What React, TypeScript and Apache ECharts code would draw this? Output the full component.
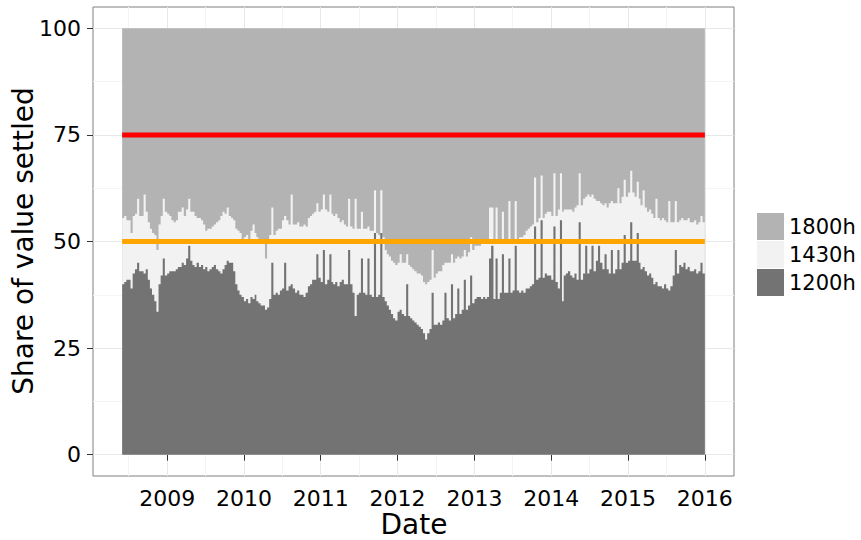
import React, { useEffect, useRef } from "react";
import * as echarts from "echarts";

// ---- data (three readings per month: days 1, 11, 21; Jun 2008 - Dec 2015) ----
const START_YEAR = 2008;
const START_MONTH = 5; // June (0-based)
const END_YEAR = 2015;
const DEKAD_DAYS = [1, 11, 21];

// share settled by 12:00 (bottom layer)
const share1200: number[] = [
  // 2008 Jun-Dec
  40, 40.5, 41, 41, 39, 42.5, 43.5, 45, 43, 43, 42.5, 43.5, 41, 39, 37.5, 36, 33.5, 40, 42, 46, 42,
  // 2009
  42.5, 43, 43, 43, 43.5, 44, 44, 45, 44.5, 46, 49, 45.5, 44.5, 44, 45, 44, 44.5, 43.5,
  44, 43, 43.5, 44, 44.5, 43.5, 43, 42.5, 43.5, 44.5, 45.5, 45, 45, 43, 40, 38.5, 37.5, 37,
  // 2010
  36, 36.5, 35.5, 37, 36.5, 37.5, 36, 35.5, 35, 35, 34, 34.5, 36.5, 45, 37.5, 38, 37.5, 38.5,
  39, 45, 38.5, 39.5, 40, 39, 38, 38.5, 37.5, 37.5, 37, 38, 39.5, 40, 41, 41, 47, 41.5,
  // 2011
  40.5, 48, 40, 41, 47, 40.5, 40, 40.5, 39.5, 40.5, 41, 40, 40, 48, 40, 38, 32.5, 37.5,
  38, 46, 38, 37.5, 46, 37.5, 37, 52, 37, 37.5, 52, 37, 36, 35, 34, 33, 32, 31.5,
  // 2012
  33.5, 34, 33, 32.5, 40, 32.5, 32, 31.5, 31, 30.5, 30, 29.5, 28.5, 27, 28.5, 29.5, 38, 30.5,
  30.5, 31, 30.5, 31.5, 38, 32, 31.5, 40, 32, 33, 39, 33, 34, 41, 34, 35, 42, 35.5,
  // 2013
  36.5, 37, 37, 36.5, 37, 36.5, 37, 46, 49, 36.5, 46, 36.5, 38, 47, 38, 38, 46, 38,
  38.5, 49, 38.5, 38, 38.5, 38, 39, 39, 39.5, 40, 53.5, 41, 41.5, 55, 41.5, 42.5, 42, 42,
  // 2014
  41, 53.5, 40.5, 39, 55, 36, 42, 42.5, 43, 42, 41.5, 42.5, 41, 54.5, 41, 42.5, 49, 42.5,
  43.5, 49, 43, 45.5, 49, 45, 43.5, 47, 43.5, 42.5, 48, 42.5, 43.5, 48, 43.5, 45, 51.5, 45,
  // 2015
  45.5, 54.5, 45.5, 45.5, 52, 45, 43.5, 44, 43, 42, 42.5, 41.5, 40, 40.5, 39.5, 39.5, 39, 40,
  39, 38.5, 39.5, 42, 48, 42.5, 44.5, 44, 45, 43.5, 44, 43, 43, 43.5, 42.5, 43, 45, 42.5,
];

// cumulative share settled by 14:30 (top of the light layer)
const cum1430: number[] = [
  // 2008 Jun-Dec
  55.5, 56, 55, 55, 52, 56, 56.5, 60, 56, 56, 61, 57, 54.5, 53, 52, 51.5, 48, 54, 56, 60, 57,
  // 2009
  56.5, 56, 55, 54.5, 55, 57, 57, 58, 56, 57.5, 60, 57, 57, 56, 55.5, 55.5, 55, 54,
  52.5, 53, 53, 53.5, 54, 54.5, 55, 56, 57, 56.5, 58, 56, 55.5, 55, 53, 52.5, 52, 50.5,
  // 2010
  51, 51.5, 50.5, 52.5, 54, 52, 51, 50.5, 50.5, 49.5, 46, 49.5, 51.5, 58, 51.5, 52.5, 53, 53,
  55, 56, 55, 54, 61, 54, 54, 54.5, 53.5, 53.5, 54, 53.5, 55.5, 56, 56.5, 57, 59, 57,
  // 2011
  57.5, 61, 57.5, 57, 61, 56.5, 56, 56.5, 55.5, 54.5, 55, 54, 53.5, 60, 53.5, 53, 60, 53,
  53, 57, 53, 53, 53.5, 52.5, 52.5, 62, 52, 51.5, 62, 51, 48, 47, 46.5, 45.5, 45, 44.5,
  // 2012
  45, 47, 45, 45, 47, 44.5, 44, 43.5, 43, 42.5, 42.5, 42, 40.5, 40, 40.5, 41, 48, 41.5,
  42.5, 43, 43, 44.5, 45, 45, 45, 47, 45, 46, 46.5, 46, 46.5, 48, 46.5, 47.5, 51, 48,
  // 2013
  49, 49, 49, 49.5, 49.5, 49.5, 50, 58, 58, 50, 58, 50, 50.5, 57, 50.5, 50.5, 59.5, 50.5,
  49.5, 59.5, 49.5, 51, 51, 51.5, 52.5, 53, 53.5, 54, 65, 54.5, 55.5, 65.5, 55.5, 56.5, 57, 57,
  // 2014
  56, 66, 56, 57.5, 66, 57, 57.5, 57.5, 57.5, 57.5, 57, 58, 58.5, 66, 58.5, 60, 60.5, 61,
  60.5, 61, 60, 59.5, 59.5, 59, 58.5, 59, 58, 59, 59.5, 59, 59, 62.5, 59, 60.5, 64.5, 60.5,
  // 2015
  61.5, 66.6, 61.5, 60.5, 64, 60, 58.5, 62, 58, 57, 57.5, 56.5, 55.5, 60, 55.5, 55, 55.5, 55,
  54.5, 59.5, 54.5, 54.5, 59.5, 54.5, 55, 55.5, 55, 55, 55.5, 54.5, 54.5, 55, 54, 54.5, 56, 54.5,
];

// cumulative share settled by 18:00 (everything)
const TOTAL = 100;
const THRESHOLD_HIGH = 75;
const THRESHOLD_LOW = 50;
const SERIES_NAMES = ["1800h", "1430h", "1200h"];
const YEAR_TICKS = [2009, 2010, 2011, 2012, 2013, 2014, 2015, 2016];
const Y_TICKS = [0, 25, 50, 75, 100];
const Y_MINOR = [12.5, 37.5, 62.5, 87.5];

// ---- derived ----
const dates: number[] = [];
for (let y = START_YEAR; y <= END_YEAR; y++) {
  for (let m = y === START_YEAR ? START_MONTH : 0; m < 12; m++) {
    for (const d of DEKAD_DAYS) dates.push(Date.UTC(y, m, d));
  }
}
const END_DATE = Date.UTC(END_YEAR + 1, 0, 1);
const allDates = [...dates, END_DATE];
const n = dates.length;
const cum1200 = share1200.slice(0, n);
const cum1430v = cum1430.slice(0, n);
const cum1800 = cum1430v.map(() => TOTAL);
// step series need a closing point at the end date (repeat of last reading)
const withEnd = (arr: number[]) => allDates.map((t, i) => [t, arr[Math.min(i, arr.length - 1)]]);

const span = END_DATE - dates[0];
const X_MIN = dates[0] - 0.05 * span;
const X_MAX = END_DATE + 0.05 * span;
const yearTs = YEAR_TICKS.map((y) => Date.UTC(y, 0, 1));
const midYearTs: number[] = [];
for (let y = START_YEAR; y <= END_YEAR; y++) midYearTs.push(Date.UTC(y, 6, 1));

const FONT = "DejaVu Sans";
const C_DARK = "#737373";
const C_LIGHT = "#f2f2f2";
const C_MID = "#b3b3b3";

export default function App() {
  const ref = useRef<HTMLDivElement>(null);
  useEffect(() => {
    if (!ref.current) return;
    const chart = echarts.init(ref.current, null, { renderer: "svg" });
    // layers drawn back-to-front as cumulative areas (18:00 total, then 14:30, then 12:00)
    const areaSeries = (name: string, data: number[], color: string, z: number) => ({
      name,
      type: "line",
      step: "end",
      symbol: "none",
      showSymbol: false,
      color,
      itemStyle: { color },
      lineStyle: { width: 0, color },
      areaStyle: { color, opacity: 1, origin: 0 },
      data: withEnd(data),
      z,
    });
    const refLine = (value: number, color: string) => ({
      type: "line",
      symbol: "none",
      showSymbol: false,
      lineStyle: { width: 5, color },
      itemStyle: { color },
      data: [
        [dates[0], value],
        [END_DATE, value],
      ],
      z: 6,
    });
    chart.setOption({
      animation: false,
      backgroundColor: "#ffffff",
      textStyle: { fontFamily: FONT },
      grid: {
        left: 93,
        right: 127,
        top: 7,
        bottom: 64,
        show: true,
        borderColor: "#7f7f7f",
        borderWidth: 1,
        backgroundColor: "#ffffff",
      },
      legend: {
        data: SERIES_NAMES,
        orient: "vertical",
        left: 757,
        top: 213,
        padding: 0,
        itemWidth: 27,
        itemHeight: 27,
        itemGap: 1,
        icon: "rect",
        selectedMode: false,
        textStyle: { fontSize: 21, color: "#000", fontFamily: FONT },
      },
      xAxis: [
        {
          type: "value",
          min: X_MIN,
          max: X_MAX,
          axisLine: { show: false },
          axisTick: { show: true, customValues: yearTs, length: 6, lineStyle: { color: "#333" } },
          axisLabel: {
            customValues: yearTs,
            formatter: (v: number) => String(new Date(v).getUTCFullYear()),
            fontSize: 22,
            color: "#000",
            margin: 11,
            fontFamily: FONT,
          },
          splitLine: { show: true, lineStyle: { color: "#e8e8e8", width: 1 } },
        },
        {
          type: "value",
          min: X_MIN,
          max: X_MAX,
          position: "top",
          axisLine: { show: false },
          axisTick: { show: false, customValues: midYearTs },
          axisLabel: { show: false },
          splitLine: { show: true, lineStyle: { color: "#f4f4f4", width: 1 } },
        },
      ],
      yAxis: [
        {
          type: "value",
          min: -5,
          max: 105,
          axisLine: { show: false },
          axisTick: { show: true, customValues: Y_TICKS, length: 6, lineStyle: { color: "#333" } },
          axisLabel: { customValues: Y_TICKS, fontSize: 22, color: "#000", margin: 12, fontFamily: FONT },
          splitLine: { show: true, lineStyle: { color: "#e8e8e8", width: 1 } },
        },
        {
          type: "value",
          min: -5,
          max: 105,
          position: "right",
          axisLine: { show: false },
          axisTick: { show: false, customValues: Y_MINOR },
          axisLabel: { show: false },
          splitLine: { show: true, lineStyle: { color: "#f4f4f4", width: 1 } },
        },
      ],
      graphic: [
        {
          type: "text",
          x: 414,
          y: 524,
          style: {
            text: "Date",
            fontSize: 28,
            fontFamily: FONT,
            fill: "#000",
            align: "center",
            verticalAlign: "middle",
            textAlign: "center",
            textVerticalAlign: "middle",
          },
        },
        {
          type: "text",
          x: 23,
          y: 241,
          rotation: Math.PI / 2,
          style: {
            text: "Share of value settled",
            fontSize: 28,
            fontFamily: FONT,
            fill: "#000",
            align: "center",
            verticalAlign: "middle",
            textAlign: "center",
            textVerticalAlign: "middle",
          },
        },
      ],
      series: [
        areaSeries("1800h", cum1800, C_MID, 2),
        areaSeries("1430h", cum1430v, C_LIGHT, 3),
        areaSeries("1200h", cum1200, C_DARK, 4),
        refLine(THRESHOLD_HIGH, "#ff0000"),
        refLine(THRESHOLD_LOW, "#ffa500"),
      ],
    });
    return () => chart.dispose();
  }, []);
  return (
    <div
      ref={ref}
      style={{ position: "fixed", left: 0, top: 0, width: 861, height: 540, background: "#fff" }}
    />
  );
}
